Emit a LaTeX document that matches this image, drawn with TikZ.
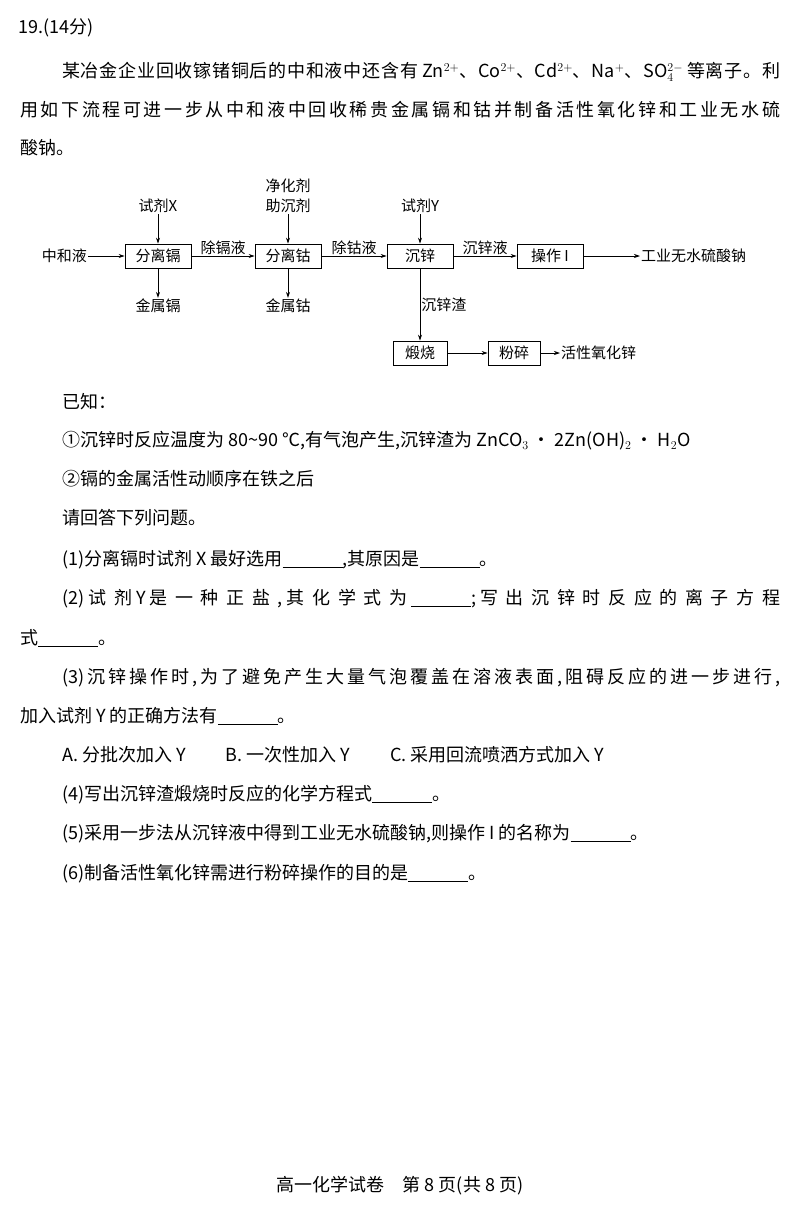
\documentclass[tikz,border=0pt]{standalone}
\usepackage{fontspec}
\setmainfont{Noto Sans CJK SC}
\usetikzlibrary{arrows.meta}
\XeTeXinterchartokenstate=1
\newcount\cjkc
\cjkc="4E00
\loop\ifnum\cjkc<"A000 \XeTeXcharclass\cjkc=3 \advance\cjkc by 1 \repeat
\cjkc="3000
\loop\ifnum\cjkc<"3040 \XeTeXcharclass\cjkc=3 \advance\cjkc by 1 \repeat
\cjkc="FF00
\loop\ifnum\cjkc<"FF70 \XeTeXcharclass\cjkc=3 \advance\cjkc by 1 \repeat
\XeTeXinterchartoks 3 3 = {\hskip 0pt plus 1fil\relax}
\XeTeXinterchartoks 0 3 = {\hskip 0pt plus 1fil\relax}
\XeTeXinterchartoks 3 0 = {\hskip 0pt plus 1fil\relax}
\newcommand{\blank}[1][60pt]{\underline{\hspace{#1}}}
\newcommand{\jl}[2]{\makebox[#1][s]{#2}}
\begin{document}
\begin{tikzpicture}[x=1pt,y=-1pt,
  txt/.style={anchor=west,inner sep=0pt,font=\fontsize{18}{22}\selectfont},
  fc/.style={font=\fontsize{15}{18}\selectfont,inner sep=1pt},
  bx/.style={draw,line width=0.8pt,minimum height=24pt,inner sep=2pt,font=\fontsize{15}{18}\selectfont},
  ar/.style={-{Stealth[length=6pt,width=4pt]},line width=0.7pt}]
\useasboundingbox (0,0) rectangle (800,1213);
\node[txt] (t0) at (18,28) {19.(14分)};
\node[txt] (t1) at (62,72) {\jl{718pt}{某冶金企业回收镓锗铜后的中和液中还含有 Zn$^{2+}$、Co$^{2+}$、Cd$^{2+}$、Na$^{+}$、SO$_4^{2-}$ 等离子。利}};
\node[txt] (t2) at (20,110) {\jl{760pt}{用如下流程可进一步从中和液中回收稀贵金属镉和钴并制备活性氧化锌和工业无水硫}};
\node[txt] (t3) at (20,148) {酸钠。};
% flowchart
\node[bx,minimum width=66pt] (b1) at (158,256) {分离镉};
\node[bx,minimum width=66pt] (b2) at (288,256) {分离钴};
\node[bx,minimum width=66pt] (b3) at (420,256) {沉锌};
\node[bx,minimum width=66pt] (b4) at (550,256) {操作 I};
\node[bx,minimum width=54pt] (b5) at (420,353) {煅烧};
\node[bx,minimum width=52pt] (b6) at (514,353) {粉碎};
\node[fc,anchor=east] (in) at (88,256) {中和液};
\node[fc] (x) at (158,206) {试剂X};
\node[fc] (cd) at (158,306) {金属镉};
\node[fc] (j1) at (288,186) {净化剂};
\node[fc] (j2) at (288,206) {助沉剂};
\node[fc] (co) at (288,306) {金属钴};
\node[fc] (y) at (420,206) {试剂Y};
\node[fc,anchor=west] (out1) at (640,256) {工业无水硫酸钠};
\node[fc,anchor=west] (out2) at (560,353) {活性氧化锌};
\draw[ar] (in) -- (b1);
\draw[ar] (b1) -- node[fc,above] (l1) {除镉液} (b2);
\draw[ar] (b2) -- node[fc,above] (l2) {除钴液} (b3);
\draw[ar] (b3) -- node[fc,above] (l3) {沉锌液} (b4);
\draw[ar] (b4) -- (out1);
\draw[ar] (x) -- (b1);
\draw[ar] (b1) -- (cd);
\draw[ar] (j2) -- (b2);
\draw[ar] (b2) -- (co);
\draw[ar] (y) -- (b3);
\draw[ar] (b3) -- node[fc,right,pos=0.5] (l4) {沉锌渣} (b5);
\draw[ar] (b5) -- (b6);
\draw[ar] (b6) -- (out2);
% text
\node[txt] (k0) at (62,402) {已知：};
\node[txt] (k1) at (62,441) {①沉锌时反应温度为 80\textasciitilde 90 ℃,有气泡产生,沉锌渣为 ZnCO$_3$ · 2Zn(OH)$_2$ · H$_2$O};
\node[txt] (k2) at (62,479) {②镉的金属活性动顺序在铁之后};
\node[txt] (k3) at (62,518) {请回答下列问题。};
\node[txt] (q1) at (62,560) {(1)分离镉时试剂 X 最好选用\blank,其原因是\blank。};
\node[txt] (q2) at (62,599) {\jl{718pt}{(2) 试剂 Y 是一种正盐, 其化学式为 \blank; 写出沉锌时反应的离子方程}};
\node[txt] (q2b) at (20,638) {式\blank。};
\node[txt] (q3) at (62,678) {\jl{718pt}{(3)沉锌操作时,为了避免产生大量气泡覆盖在溶液表面,阻碍反应的进一步进行,}};
\node[txt] (q3b) at (20,716) {加入试剂 Y 的正确方法有\blank。};
\node[txt] (q3c) at (62,755) {A. 分批次加入 Y\hspace{40pt}B. 一次性加入 Y\hspace{40pt}C. 采用回流喷洒方式加入 Y};
\node[txt] (q4) at (62,795) {(4)写出沉锌渣煅烧时反应的化学方程式\blank。};
\node[txt] (q5) at (62,834) {(5)采用一步法从沉锌液中得到工业无水硫酸钠,则操作 I 的名称为\blank。};
\node[txt] (q6) at (62,874) {(6)制备活性氧化锌需进行粉碎操作的目的是\blank。};
\node[txt,anchor=center] (ft) at (400,1186) {高一化学试卷\quad 第 8 页(共 8 页)};
\end{tikzpicture}
\end{document}
